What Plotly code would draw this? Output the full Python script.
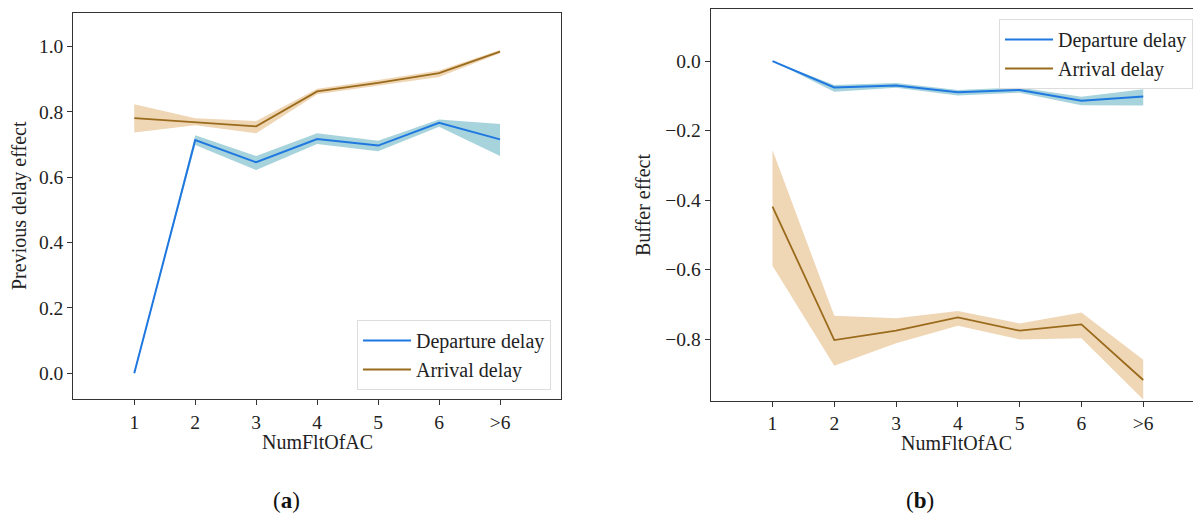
import plotly.graph_objects as go

categories = ["1", "2", "3", "4", "5", "6", ">6"]

# Panel (a): Previous delay effect
a_dep_mean = [0.000, 0.714, 0.646, 0.717, 0.697, 0.767, 0.716]
a_dep_low = [0.000, 0.699, 0.622, 0.702, 0.680, 0.755, 0.665]
a_dep_high = [0.000, 0.729, 0.665, 0.735, 0.712, 0.777, 0.763]
a_arr_mean = [0.781, 0.769, 0.756, 0.863, 0.889, 0.919, 0.985]
a_arr_low = [0.737, 0.759, 0.735, 0.854, 0.880, 0.907, 0.980]
a_arr_high = [0.824, 0.781, 0.772, 0.871, 0.898, 0.927, 0.990]

# Panel (b): Buffer effect
b_dep_mean = [0.000, -0.076, -0.070, -0.090, -0.083, -0.114, -0.102]
b_dep_low = [0.000, -0.088, -0.077, -0.099, -0.091, -0.127, -0.128]
b_dep_high = [0.000, -0.069, -0.063, -0.083, -0.076, -0.103, -0.081]
b_arr_mean = [-0.419, -0.803, -0.776, -0.738, -0.776, -0.758, -0.918]
b_arr_low = [-0.589, -0.877, -0.812, -0.762, -0.801, -0.798, -0.974]
b_arr_high = [-0.256, -0.733, -0.740, -0.719, -0.755, -0.724, -0.860]

series_names = ["Departure delay", "Arrival delay"]

DEP_LINE = "#1f78e0"
DEP_FILL = "rgba(80,168,188,0.5)"
ARR_LINE = "#9a6b1c"
ARR_FILL = "rgba(226,180,120,0.55)"
FONT = "Liberation Serif"
AXC = "#333333"

fig = go.Figure()


def add_series(xa, ya, leg, name, mean, low, high, lc, fc, lw):
    fig.add_trace(go.Scatter(
        x=categories + categories[::-1], y=high + low[::-1],
        fill="toself", fillcolor=fc, line=dict(width=0),
        mode="lines", hoverinfo="skip", showlegend=False,
        xaxis=xa, yaxis=ya))
    fig.add_trace(go.Scatter(
        x=categories, y=mean, mode="lines", name=name,
        line=dict(color=lc, width=lw), xaxis=xa, yaxis=ya, legend=leg))


add_series("x", "y", "legend", series_names[0], a_dep_mean, a_dep_low, a_dep_high, DEP_LINE, DEP_FILL, 2.0)
add_series("x", "y", "legend", series_names[1], a_arr_mean, a_arr_low, a_arr_high, ARR_LINE, ARR_FILL, 1.8)
add_series("x2", "y2", "legend2", series_names[0], b_dep_mean, b_dep_low, b_dep_high, DEP_LINE, DEP_FILL, 2.0)
add_series("x2", "y2", "legend2", series_names[1], b_arr_mean, b_arr_low, b_arr_high, ARR_LINE, ARR_FILL, 1.8)

# page body has an 8px margin; work in screen pixels and convert
OFF = 8
W, H = 1201 - OFF, 519 - OFF


def px(x):
    return (x - OFF) / W


def py(y):
    return 1 - (y - OFF) / H


axis_common = dict(showgrid=False, zeroline=False, showline=True, linecolor=AXC,
                   linewidth=1.3, ticks="outside", ticklen=5, tickcolor=AXC, tickwidth=1.2,
                   tickfont=dict(family=FONT, size=19.5, color="#222222"))

legend_common = dict(font=dict(family=FONT, size=20, color="#222222"),
                     bgcolor="rgba(255,255,255,0.8)", bordercolor="#dddddd", borderwidth=1,
                     tracegroupgap=0, itemwidth=48)

fig.update_layout(
    width=W, height=H,
    margin=dict(l=0, r=0, t=0, b=0),
    paper_bgcolor="white", plot_bgcolor="white",
    xaxis=dict(domain=[px(73.3), px(561)], anchor="y", type="category",
               categoryorder="array", categoryarray=categories,
               range=[-1, 7], mirror=True, **axis_common),
    yaxis=dict(domain=[py(399), py(12.7)], anchor="x",
               range=[-0.079, 1.104], tickvals=[0, 0.2, 0.4, 0.6, 0.8, 1.0],
               tickformat=".1f", mirror=True, **axis_common),
    xaxis2=dict(domain=[px(710.7), 1.0], anchor="y2", type="category",
                categoryorder="array", categoryarray=categories,
                range=[-1, 6.935], mirror=True, **axis_common),
    yaxis2=dict(domain=[py(400.7), py(9.3)], anchor="x2",
                range=[-0.9775, 0.149], tickvals=[-0.8, -0.6, -0.4, -0.2, 0.0],
                tickformat=".1f", mirror=False, **axis_common),
    legend=dict(x=px(551), y=py(390), xanchor="right", yanchor="bottom", **legend_common),
    legend2=dict(x=px(1193), y=py(19), xanchor="right", yanchor="top", **legend_common),
    showlegend=True,
)

annotations = [
    dict(text="NumFltOfAC", x=px(317), y=py(442)),
    dict(text="NumFltOfAC", x=px(956), y=py(443)),
    dict(text="Previous delay effect", x=px(19), y=py(206), textangle=-90),
    dict(text="Buffer effect", x=px(643), y=py(205), textangle=-90),
]
for a in annotations:
    fig.add_annotation(xref="paper", yref="paper", showarrow=False,
                       xanchor="center", yanchor="middle",
                       font=dict(family=FONT, size=20, color="#222222"), **a)

for txt, xc in [("(<b>a</b>)", 286), ("(<b>b</b>)", 920)]:
    fig.add_annotation(text=txt, x=px(xc), y=py(500), xref="paper", yref="paper",
                       showarrow=False, xanchor="center", yanchor="middle",
                       font=dict(family=FONT, size=23, color="#111111"))

fig.write_html("out.html")
